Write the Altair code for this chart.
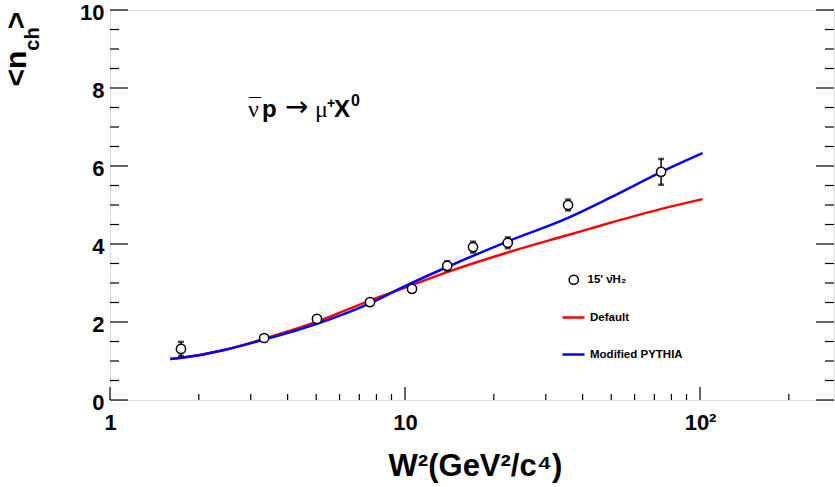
import altair as alt
import pandas as pd

# ---- data ----
w2_data = [1.74, 3.33, 5.03, 7.61, 10.56, 13.9, 17.0, 22.3, 35.7, 73.8]
nch_data = [1.31, 1.59, 2.08, 2.51, 2.85, 3.44, 3.92, 4.03, 5.00, 5.85]
nch_err = [0.18, 0.07, 0.07, 0.07, 0.07, 0.12, 0.14, 0.14, 0.14, 0.33]

curve_w2 = [1.6, 2.0, 2.5, 3.33, 5.0, 7.6, 10.0, 13.9, 22.0, 35.7, 50.0, 74.0, 102.0]
default_nch = [1.05, 1.15, 1.30, 1.57, 2.00, 2.55, 2.88, 3.28, 3.77, 4.23, 4.55, 4.90, 5.15]
modified_nch = [1.05, 1.15, 1.30, 1.55, 1.95, 2.48, 2.92, 3.41, 4.05, 4.67, 5.20, 5.85, 6.33]

model_names = ["Default", "Modified PYTHIA"]
model_colors = ["#ff0000", "#0000ff"]
data_label = "15' ν̄H₂"

x_major = [1, 10, 100]
x_minor = [2, 3, 4, 5, 6, 7, 8, 9, 20, 30, 40, 50, 60, 70, 80, 90, 200]
y_major = [0, 2, 4, 6, 8, 10]
y_minor = [0.5, 1, 1.5, 2.5, 3, 3.5, 4.5, 5, 5.5, 6.5, 7, 7.5, 8.5, 9, 9.5]

W, H = 724, 390
XMAX = 284.5
FONT = "Liberation Sans"

pts = pd.DataFrame({
    "w2": w2_data, "n": nch_data,
    "lo": [a - e for a, e in zip(nch_data, nch_err)],
    "hi": [a + e for a, e in zip(nch_data, nch_err)],
    "label": [data_label] * len(w2_data),
})
curves = pd.DataFrame({
    "w2": curve_w2 * 2,
    "n": default_nch + modified_nch,
    "model": [model_names[0]] * len(curve_w2) + [model_names[1]] * len(curve_w2),
})
one = pd.DataFrame({"a": [0]})

xs = alt.Scale(type="log", domain=[1, XMAX], nice=False)
ys = alt.Scale(domain=[0, 10], nice=False, zero=False)

x_axis = alt.Axis(values=x_major, labelExpr="datum.value == 100 ? '10²' : datum.label",
                  ticks=False, domain=False, grid=False, labelFont=FONT, labelFontSize=22,
                  labelFontWeight="bold", labelColor="black", labelPadding=12,
                  labelFlush=False, labelOverlap=False,
                  title="W²(GeV²/c⁴)", titleFont=FONT, titleFontSize=31,
                  titleFontWeight="bold", titleColor="black", titleX=365, titleY=75,
                  titleBaseline="alphabetic", titleAlign="center")
y_axis = alt.Axis(values=y_major, ticks=False, domain=False, grid=False, labelFont=FONT,
                  labelFontSize=22, labelFontWeight="bold", labelColor="black",
                  labelPadding=6, labelOffset=2, labelFlush=False, labelOverlap=False, title=None)

# inward ticks
def xticks(vals, length):
    return alt.Chart(pd.DataFrame({"t": vals})).mark_rule(color="black", strokeWidth=1.2).encode(
        x=alt.X("t:Q", scale=xs), y=alt.value(H), y2=alt.value(H - length))

def yticks(vals, length, right=False):
    x0 = W if right else 0
    x1 = W - length if right else length
    return alt.Chart(pd.DataFrame({"t": vals})).mark_rule(color="black", strokeWidth=1.2).encode(
        y=alt.Y("t:Q", scale=ys), x=alt.value(x0), x2=alt.value(x1))

ticks = [xticks(x_major, 13), xticks(x_minor, 6),
         yticks(y_major, 18), yticks(y_minor, 9),
         yticks(y_major, 18, True), yticks(y_minor, 9, True)]

lines = alt.Chart(curves).mark_line(strokeWidth=2.5, interpolate="monotone").encode(
    x=alt.X("w2:Q", scale=xs, axis=x_axis),
    y=alt.Y("n:Q", scale=ys, axis=y_axis),
    color=alt.Color("model:N", scale=alt.Scale(domain=model_names, range=model_colors),
                    legend=alt.Legend(title=None, orient="none", legendX=451, legendY=295,
                                      symbolType="stroke", symbolSize=484, symbolStrokeWidth=2.5,
                                      rowPadding=19, labelOffset=4, padding=0,
                                      labelFont=FONT, labelFontSize=11.5, labelFontWeight="bold",
                                      labelColor="black")),
)

ebar = alt.Chart(pts).mark_rule(color="black", strokeWidth=1.5).encode(
    x=alt.X("w2:Q", scale=xs), y=alt.Y("lo:Q", scale=ys), y2="hi:Q")
cap_lo = alt.Chart(pts).mark_tick(color="black", orient="horizontal", size=6, thickness=2.5).encode(
    x=alt.X("w2:Q", scale=xs), y=alt.Y("lo:Q", scale=ys))
cap_hi = alt.Chart(pts).mark_tick(color="black", orient="horizontal", size=6, thickness=2.5).encode(
    x=alt.X("w2:Q", scale=xs), y=alt.Y("hi:Q", scale=ys))

points = alt.Chart(pts).mark_point(filled=False, fill="white", fillOpacity=1, strokeWidth=1.5,
                                   size=85, opacity=1, shape="circle").encode(
    x=alt.X("w2:Q", scale=xs),
    y=alt.Y("n:Q", scale=ys),
    stroke=alt.Stroke("label:N", scale=alt.Scale(domain=[data_label], range=["black"]),
                      legend=alt.Legend(title=None, orient="none", legendX=458, legendY=264,
                                        symbolType="circle", symbolFillColor="white",
                                        symbolStrokeWidth=1.5, symbolSize=85, symbolOpacity=1,
                                        labelOffset=8, padding=0, labelFont=FONT,
                                        labelFontSize=11.5, labelFontWeight="bold",
                                        labelColor="black")),
)

def txt(s, x, y, size, weight="bold", font=FONT, angle=0, align="left"):
    props = dict(text=s, font=font, fontSize=size, fontWeight=weight, color="black",
                 align=align, baseline="alphabetic")
    if angle:
        props["angle"] = angle
    return alt.Chart(one).mark_text(**props).encode(x=alt.value(x), y=alt.value(y))

# y-axis title <n_ch> (rotated)
ytitle = [txt("<n", -84, 58.5, 30, angle=270, align="center"),
          txt("ch", -71, 29, 20, angle=270, align="center"),
          txt(">", -84, 10.5, 30, angle=270, align="center")]

# reaction annotation: anti-nu p -> mu+ X0
ann = [txt("ν", 138, 107, 24, weight="normal", font="Liberation Serif"),
       txt("¯", 139, 104, 22, weight="normal", font="Liberation Sans"),
       txt("p", 152, 107, 24),
       txt("→", 175, 106, 28, weight="normal", font="DejaVu Sans"),
       txt("μ", 205, 107, 24, weight="normal", font="Liberation Serif"),
       txt("+", 217, 98, 14),
       txt("X", 224, 107, 24),
       txt("0", 241, 96, 16)]

chart = alt.layer(*ticks, lines, ebar, cap_lo, cap_hi, points, *ytitle, *ann).properties(
    width=W, height=H,
    autosize=alt.AutoSizeParams(type="none"),
    padding={"left": 110, "top": 10, "right": 1, "bottom": 87},
).configure_view(stroke="black", strokeWidth=1.3).configure(background="white")

chart.save("out.html", embed_options={"renderer": "svg", "actions": False})
